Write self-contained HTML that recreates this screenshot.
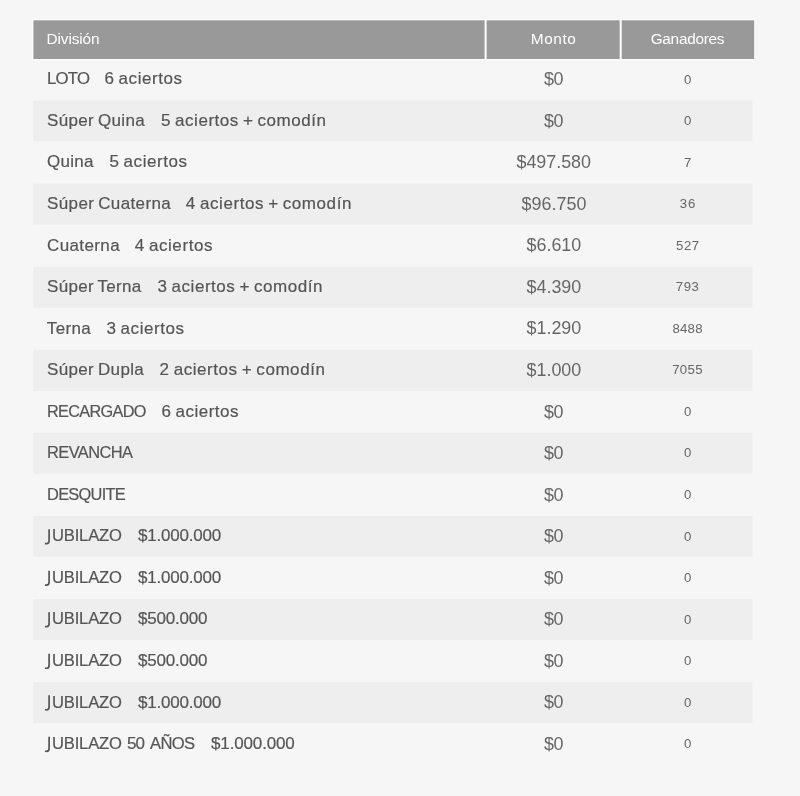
<!DOCTYPE html>
<html lang="es"><head><meta charset="utf-8"><title>Resultados</title>
<style>
html,body{margin:0;padding:0;}
body{width:800px;height:796px;background:#f6f6f6;position:relative;overflow:hidden;font-family:"Liberation Sans",sans-serif;color:#555;}
svg{position:absolute;left:0;top:0;}
#t{position:absolute;left:0;top:0;width:800px;height:796px;will-change:transform;}
span{position:absolute;white-space:nowrap;line-height:40px;transform-origin:0 50%;}
.h{color:#fff;}
.n,.d{word-spacing:-1.2px;color:#555;-webkit-text-stroke:0.2px #555;}
.m{color:#666;}
.g{color:#666;}
</style></head><body>
<svg width="800" height="796" viewBox="0 0 800 796">
<rect x="32.4" y="19.3" width="722.6" height="40.7" fill="#fff"/>
<rect x="33.4" y="20.3" width="451.2" height="38.7" fill="#999"/>
<rect x="486.6" y="20.3" width="133.1" height="38.7" fill="#999"/>
<rect x="621.7" y="20.3" width="132.5" height="38.7" fill="#999"/>
<rect x="33.2" y="100.50" width="719.4" height="41.1" fill="#eee"/>
<rect x="33.2" y="183.58" width="719.4" height="41.1" fill="#eee"/>
<rect x="33.2" y="266.66" width="719.4" height="41.1" fill="#eee"/>
<rect x="33.2" y="349.74" width="719.4" height="41.1" fill="#eee"/>
<rect x="33.2" y="432.82" width="719.4" height="41.1" fill="#eee"/>
<rect x="33.2" y="515.90" width="719.4" height="41.1" fill="#eee"/>
<rect x="33.2" y="598.98" width="719.4" height="41.1" fill="#eee"/>
<rect x="33.2" y="682.06" width="719.4" height="41.1" fill="#eee"/>
<path transform="translate(0 515.94)" d="M49.1 13.2V24.6C49.1 27.2 47.8 27.7 46.6 27.7C46 27.7 45.5 27.6 45 27.4" fill="none" stroke="#555" stroke-width="1.7"/>
<path transform="translate(0 557.48)" d="M49.1 13.2V24.6C49.1 27.2 47.8 27.7 46.6 27.7C46 27.7 45.5 27.6 45 27.4" fill="none" stroke="#555" stroke-width="1.7"/>
<path transform="translate(0 599.02)" d="M49.1 13.2V24.6C49.1 27.2 47.8 27.7 46.6 27.7C46 27.7 45.5 27.6 45 27.4" fill="none" stroke="#555" stroke-width="1.7"/>
<path transform="translate(0 640.56)" d="M49.1 13.2V24.6C49.1 27.2 47.8 27.7 46.6 27.7C46 27.7 45.5 27.6 45 27.4" fill="none" stroke="#555" stroke-width="1.7"/>
<path transform="translate(0 682.10)" d="M49.1 13.2V24.6C49.1 27.2 47.8 27.7 46.6 27.7C46 27.7 45.5 27.6 45 27.4" fill="none" stroke="#555" stroke-width="1.7"/>
<path transform="translate(0 723.64)" d="M49.1 13.2V24.6C49.1 27.2 47.8 27.7 46.6 27.7C46 27.7 45.5 27.6 45 27.4" fill="none" stroke="#555" stroke-width="1.7"/>
</svg>
<div id="t">
<span class="h" style="left:46.55px;top:19.00px;font-size:15.4px;letter-spacing:-0.121px">División</span>
<span class="h" style="left:530.85px;top:19.00px;font-size:15.4px;letter-spacing:0.563px">Monto</span>
<span class="h" style="left:650.65px;top:19.00px;font-size:15.4px;letter-spacing:-0.281px">Ganadores</span>
<span class="n" style="left:46.90px;top:58.00px;font-size:17.3px;letter-spacing:-0.825px;transform:scaleX(0.97)">LOTO</span><span class="d" style="left:104.55px;top:59.00px;font-size:17px;letter-spacing:0.544px">6 aciertos</span><span class="m" style="left:544.05px;top:59.00px;font-size:17.9px;letter-spacing:-0.400px">$0</span><span class="g" style="left:683.92px;top:60.00px;font-size:13.2px;letter-spacing:0.000px">0</span>
<span class="n" style="left:47.05px;top:101.00px;font-size:17px;letter-spacing:0.340px">Súper Quina</span><span class="d" style="left:161.05px;top:101.00px;font-size:17px;letter-spacing:0.534px">5 aciertos + comodín</span><span class="m" style="left:544.05px;top:101.00px;font-size:17.9px;letter-spacing:-0.400px">$0</span><span class="g" style="left:683.92px;top:101.00px;font-size:13.2px;letter-spacing:0.000px">0</span>
<span class="n" style="left:47.05px;top:142.00px;font-size:17px;letter-spacing:0.287px">Quina</span><span class="d" style="left:109.55px;top:142.00px;font-size:17px;letter-spacing:0.544px">5 aciertos</span><span class="m" style="left:516.45px;top:142.00px;font-size:17.9px;letter-spacing:-0.007px">$497.580</span><span class="g" style="left:683.90px;top:143.00px;font-size:13.2px;letter-spacing:0.000px">7</span>
<span class="n" style="left:47.05px;top:184.00px;font-size:17px;letter-spacing:0.377px">Súper Cuaterna</span><span class="d" style="left:185.80px;top:184.00px;font-size:17px;letter-spacing:0.574px">4 aciertos + comodín</span><span class="m" style="left:521.45px;top:184.00px;font-size:17.9px;letter-spacing:0.075px">$96.750</span><span class="g" style="left:679.80px;top:184.00px;font-size:13.2px;letter-spacing:0.800px">36</span>
<span class="n" style="left:47.05px;top:226.00px;font-size:17px;letter-spacing:0.379px">Cuaterna</span><span class="d" style="left:134.80px;top:226.00px;font-size:17px;letter-spacing:0.572px">4 aciertos</span><span class="m" style="left:526.55px;top:225.00px;font-size:17.9px;letter-spacing:-0.010px">$6.610</span><span class="g" style="left:676.10px;top:226.00px;font-size:13.2px;letter-spacing:0.475px">527</span>
<span class="n" style="left:47.05px;top:267.00px;font-size:17px;letter-spacing:0.315px">Súper Terna</span><span class="d" style="left:157.55px;top:267.00px;font-size:17px;letter-spacing:0.534px">3 aciertos + comodín</span><span class="m" style="left:526.55px;top:267.00px;font-size:17.9px;letter-spacing:-0.010px">$4.390</span><span class="g" style="left:675.85px;top:267.00px;font-size:13.2px;letter-spacing:0.475px">793</span>
<span class="n" style="left:46.80px;top:309.00px;font-size:17px;letter-spacing:0.350px">Terna</span><span class="d" style="left:106.55px;top:309.00px;font-size:17px;letter-spacing:0.544px">3 aciertos</span><span class="m" style="left:526.55px;top:308.00px;font-size:17.9px;letter-spacing:-0.010px">$1.290</span><span class="g" style="left:672.40px;top:309.00px;font-size:13.2px;letter-spacing:0.250px">8488</span>
<span class="n" style="left:47.05px;top:350.00px;font-size:17px;letter-spacing:0.340px">Súper Dupla</span><span class="d" style="left:159.55px;top:350.00px;font-size:17px;letter-spacing:0.561px">2 aciertos + comodín</span><span class="m" style="left:526.55px;top:350.00px;font-size:17.9px;letter-spacing:-0.010px">$1.000</span><span class="g" style="left:672.15px;top:350.00px;font-size:13.2px;letter-spacing:0.333px">7055</span>
<span class="n" style="left:47.05px;top:391.00px;font-size:17.3px;letter-spacing:-0.711px;transform:scaleX(0.94)">RECARGADO</span><span class="d" style="left:161.55px;top:392.00px;font-size:17px;letter-spacing:0.489px">6 aciertos</span><span class="m" style="left:544.05px;top:392.00px;font-size:17.9px;letter-spacing:-0.400px">$0</span><span class="g" style="left:683.92px;top:392.00px;font-size:13.2px;letter-spacing:0.000px">0</span>
<span class="n" style="left:47.45px;top:432.00px;font-size:17.3px;letter-spacing:-0.594px;transform:scaleX(0.95)">REVANCHA</span><span class="m" style="left:544.05px;top:433.00px;font-size:17.9px;letter-spacing:-0.400px">$0</span><span class="g" style="left:683.92px;top:433.00px;font-size:13.2px;letter-spacing:0.000px">0</span>
<span class="n" style="left:47.05px;top:474.00px;font-size:17.3px;letter-spacing:-0.767px;transform:scaleX(0.95)">DESQUITE</span><span class="m" style="left:544.05px;top:475.00px;font-size:17.9px;letter-spacing:-0.400px">$0</span><span class="g" style="left:683.92px;top:475.00px;font-size:13.2px;letter-spacing:0.000px">0</span>
<span class="n" style="left:51.80px;top:515.00px;font-size:17.3px;letter-spacing:-0.191px;transform:scaleX(0.96)">UBILAZO</span><span class="d" style="left:138.05px;top:516.00px;font-size:17px;letter-spacing:-0.206px">$1.000.000</span><span class="m" style="left:544.05px;top:516.00px;font-size:17.9px;letter-spacing:-0.400px">$0</span><span class="g" style="left:683.92px;top:517.00px;font-size:13.2px;letter-spacing:0.000px">0</span>
<span class="n" style="left:51.80px;top:557.00px;font-size:17.3px;letter-spacing:-0.191px;transform:scaleX(0.96)">UBILAZO</span><span class="d" style="left:138.05px;top:558.00px;font-size:17px;letter-spacing:-0.206px">$1.000.000</span><span class="m" style="left:544.05px;top:558.00px;font-size:17.9px;letter-spacing:-0.400px">$0</span><span class="g" style="left:683.92px;top:558.00px;font-size:13.2px;letter-spacing:0.000px">0</span>
<span class="n" style="left:51.80px;top:598.00px;font-size:17.3px;letter-spacing:-0.191px;transform:scaleX(0.96)">UBILAZO</span><span class="d" style="left:138.05px;top:599.00px;font-size:17px;letter-spacing:-0.229px">$500.000</span><span class="m" style="left:544.05px;top:599.00px;font-size:17.9px;letter-spacing:-0.400px">$0</span><span class="g" style="left:683.92px;top:600.00px;font-size:13.2px;letter-spacing:0.000px">0</span>
<span class="n" style="left:51.80px;top:640.00px;font-size:17.3px;letter-spacing:-0.191px;transform:scaleX(0.96)">UBILAZO</span><span class="d" style="left:138.05px;top:641.00px;font-size:17px;letter-spacing:-0.229px">$500.000</span><span class="m" style="left:544.05px;top:641.00px;font-size:17.9px;letter-spacing:-0.400px">$0</span><span class="g" style="left:683.92px;top:641.00px;font-size:13.2px;letter-spacing:0.000px">0</span>
<span class="n" style="left:51.80px;top:682.00px;font-size:17.3px;letter-spacing:-0.191px;transform:scaleX(0.96)">UBILAZO</span><span class="d" style="left:138.05px;top:683.00px;font-size:17px;letter-spacing:-0.206px">$1.000.000</span><span class="m" style="left:544.05px;top:682.00px;font-size:17.9px;letter-spacing:-0.400px">$0</span><span class="g" style="left:683.92px;top:683.00px;font-size:13.2px;letter-spacing:0.000px">0</span>
<span class="n" style="left:51.80px;top:723.00px;font-size:17.3px;letter-spacing:-0.191px;transform:scaleX(0.96)">UBILAZO</span><span class="n" style="left:126.95px;top:724.00px;font-size:17px;letter-spacing:-0.900px">50</span><span class="n" style="left:150.30px;top:723.00px;font-size:17.3px;letter-spacing:-0.642px;transform:scaleX(0.96)">AÑOS</span><span class="d" style="left:211.05px;top:724.00px;font-size:17px;letter-spacing:-0.150px">$1.000.000</span><span class="m" style="left:544.05px;top:724.00px;font-size:17.9px;letter-spacing:-0.400px">$0</span><span class="g" style="left:683.92px;top:724.00px;font-size:13.2px;letter-spacing:0.000px">0</span>
</div>
</body></html>
